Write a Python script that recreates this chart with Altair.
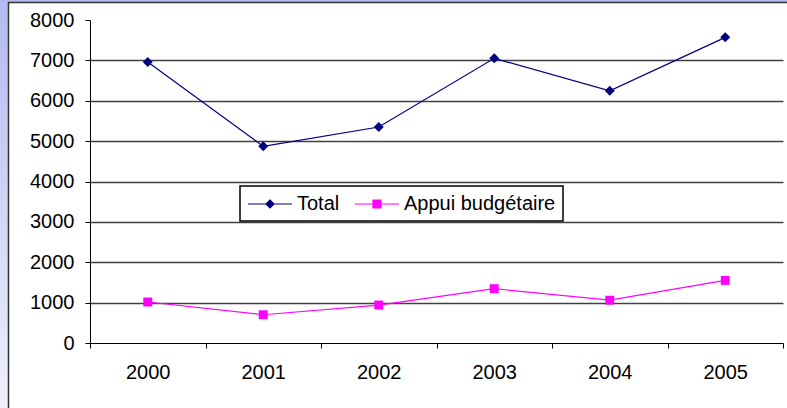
import altair as alt
import pandas as pd

years = ["2000", "2001", "2002", "2003", "2004", "2005"]
total = [6960, 4870, 5350, 7050, 6245, 7570]
appui = [1015, 700, 940, 1345, 1060, 1550]
series_names = ["Total", "Appui budgétaire"]
series_colors = ["#000080", "#FF00FF"]
y_ticks = [0, 1000, 2000, 3000, 4000, 5000, 6000, 7000, 8000]

rows = []
for name, vals in zip(series_names, [total, appui]):
    for yr, v in zip(years, vals):
        rows.append({"Année": yr, "Valeur": v, "Série": name})
df = pd.DataFrame(rows)
legend_df = pd.DataFrame({"Série": series_names})
deco_df = pd.DataFrame({"k": [0]})

FONT = "Liberation Sans"

x_enc = alt.X("Année:O", scale=alt.Scale(type="band", domain=years, paddingInner=0, paddingOuter=0),
              axis=alt.Axis(title=None, labelAngle=0, tickBand="extent", tickSize=5, tickColor="black",
                            domainColor="black", labelFontSize=20, labelFont=FONT, labelColor="black",
                            labelPadding=14, grid=False))
y_enc = alt.Y("Valeur:Q", scale=alt.Scale(domain=[0, 8000], nice=False, zero=True),
              axis=alt.Axis(title=None, values=y_ticks, format="d", grid=True, gridColor="#404040",
                            gridWidth=1.5,
                            gridOpacity={"condition": {"test": "datum.value === 8000 || datum.value === 0", "value": 0}, "value": 1},
                            tickSize=5, tickColor="black", domainColor="black", labelFontSize=20,
                            labelFont=FONT, labelColor="black", labelPadding=11))

# decorative slide background strips and chart border
grad = alt.Gradient(gradient="linear",
                    stops=[alt.GradientStop(color="#b2baf0", offset=0),
                           alt.GradientStop(color="#eef0fb", offset=1)],
                    x1=0, x2=0, y1=0, y2=1)
left_strip = alt.Chart(deco_df).mark_rect(fill=grad).encode(
    x=alt.value(-90), x2=alt.value(-82), y=alt.value(-20), y2=alt.value(388))
top_strip = alt.Chart(deco_df).mark_rect(color="#b2baf0").encode(
    x=alt.value(-90), x2=alt.value(697), y=alt.value(-20), y2=alt.value(-18))
border = alt.Chart(deco_df).mark_rect(fillOpacity=0, stroke="#333333", strokeWidth=1.5).encode(
    x=alt.value(-81.5), x2=alt.value(720), y=alt.value(-17.5), y2=alt.value(430))

base = alt.Chart(df)
line_total = base.transform_filter(alt.datum["Série"] == "Total").mark_line(
    strokeWidth=1.2, color="#000080").encode(x=x_enc, y=y_enc)
line_appui = base.transform_filter(alt.datum["Série"] == "Appui budgétaire").mark_line(
    strokeWidth=1.2, color="#FF00FF").encode(x=x_enc, y=y_enc)

pts_total = base.transform_filter(alt.datum["Série"] == "Total").mark_point(
    shape="diamond", filled=True, size=100, opacity=1, color="#000080").encode(x=x_enc, y=y_enc)
pts_appui = base.transform_filter(alt.datum["Série"] == "Appui budgétaire").mark_point(
    shape="square", filled=True, size=80, opacity=1, color="#FF00FF").encode(x=x_enc, y=y_enc)

# legend symbol: a 44px line with the marker in its middle (unit = 10px for size 400)
shape_paths = [
    "M-1,0L3.4,0M1.2,-0.4L1.6,0L1.2,0.4L0.8,0Z",
    "M-1,0L3.4,0M0.8,-0.4L1.6,-0.4L1.6,0.4L0.8,0.4Z",
]
leg = alt.Legend(orient="none", legendX=150, legendY=166, direction="horizontal", columns=2,
                 title=None, fillColor="white", strokeColor="black", padding=7,
                 symbolSize=400, symbolStrokeWidth=1.2, symbolOpacity=1,
                 labelOffset=28, columnPadding=12, labelFontSize=20, labelFont=FONT,
                 labelColor="black", labelLimit=400)
legend_layer = alt.Chart(legend_df).mark_point(clip=True, filled=True, opacity=1).encode(
    x=alt.value(5), y=alt.value(-200),
    fill=alt.Fill("Série:N", scale=alt.Scale(domain=series_names, range=series_colors), legend=leg),
    stroke=alt.Stroke("Série:N", scale=alt.Scale(domain=series_names, range=series_colors), legend=leg),
    shape=alt.Shape("Série:N", scale=alt.Scale(domain=series_names, range=shape_paths), legend=leg),
)

chart = alt.layer(left_strip, top_strip, border, line_total, line_appui, pts_total, pts_appui,
                  legend_layer).properties(
    width=693, height=323,
    autosize=alt.AutoSizeParams(type="none"),
    padding={"left": 90, "top": 20, "right": 4, "bottom": 65},
    background="white",
).configure_view(strokeOpacity=0).configure_legend(strokeWidth=1.5)

chart.save("out.html", embed_options={"renderer": "svg", "actions": False})
